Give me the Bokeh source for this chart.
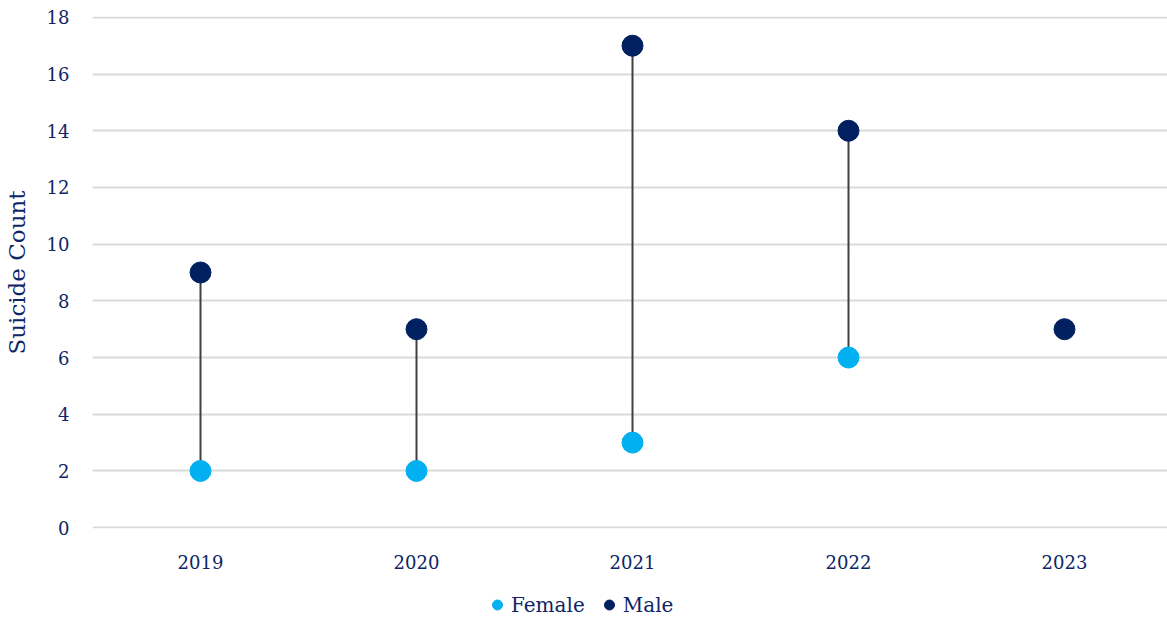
from bokeh.plotting import figure
from bokeh.models import ColumnDataSource, Range1d, FixedTicker, Legend, LegendItem
from bokeh.layouts import column
from bokeh.embed import file_html
from bokeh.resources import INLINE

years = [2019, 2020, 2021, 2022, 2023]
female = [2, 2, 3, 6, float("nan")]
male = [9, 7, 17, 14, 7]
y_ticks = [0, 2, 4, 6, 8, 10, 12, 14, 16, 18]
series_names = ["Female", "Male"]
series_colors = ["#00B0F0", "#002060"]

FONT = "DejaVu Serif"
TXT = "#0E2566"

src = ColumnDataSource(dict(x=years, f=female, m=male))

p = figure(frame_width=1076, frame_height=512, output_backend="svg", toolbar_location=None,
           x_range=Range1d(2018.5, 2018.5 + 1076 / 216), y_range=Range1d(-0.03, 18.03),
           min_border_left=83, min_border_right=0, min_border_top=16, min_border_bottom=64)
p.outline_line_color = None
p.xgrid.grid_line_color = None
p.ygrid.grid_line_color = "#D9D9D9"
p.ygrid.grid_line_width = 2

p.segment(x0="x", y0="f", x1="x", y1="m", source=src, line_color="#404040", line_width=2)
p.scatter(x="x", y="f", source=src, size=21, color=series_colors[0])
p.scatter(x="x", y="m", source=src, size=21, color=series_colors[1])

p.xaxis.ticker = FixedTicker(ticks=years)
p.xaxis.major_label_overrides = {y: str(y) for y in years}
p.yaxis.ticker = FixedTicker(ticks=y_ticks)
for ax in (p.xaxis, p.yaxis):
    ax.axis_line_color = None
    ax.major_tick_line_color = None
    ax.minor_tick_line_color = None
    ax.major_label_text_font = FONT
    ax.major_label_text_font_size = "18px"
    ax.major_label_text_color = TXT
p.xaxis.major_label_standoff = 20
p.yaxis.major_label_standoff = 17
p.yaxis.axis_label = "Suicide Count"
p.yaxis.axis_label_text_font = FONT
p.yaxis.axis_label_text_font_style = "normal"
p.yaxis.axis_label_text_font_size = "23px"
p.yaxis.axis_label_text_color = TXT
p.yaxis.axis_label_standoff = 14

# legend strip below the chart (hidden swatch renderers lie outside its ranges)
q = figure(width=1159, height=25, output_backend="svg", toolbar_location=None,
           x_range=Range1d(0, 1), y_range=Range1d(0, 1),
           x_axis_type=None, y_axis_type=None,
           min_border_left=0, min_border_right=0, min_border_top=0, min_border_bottom=0)
q.outline_line_color = None
q.xgrid.visible = False
q.ygrid.visible = False
items = []
for name, col in zip(series_names, series_colors):
    r = q.scatter(x=[-5], y=[-5], size=14, color=col)
    items.append(LegendItem(label=name, renderers=[r]))
legend = Legend(items=items, orientation="horizontal", location=(391, 0),
                label_text_font=FONT, label_text_font_size="20px", label_text_color=TXT,
                glyph_width=28, glyph_height=25, label_standoff=0, spacing=10,
                border_line_color=None, background_fill_alpha=0, padding=0, margin=0)
q.add_layout(legend, "center")

layout = column(p, q, spacing=0)
open("out.html", "w").write(file_html(layout, INLINE))
